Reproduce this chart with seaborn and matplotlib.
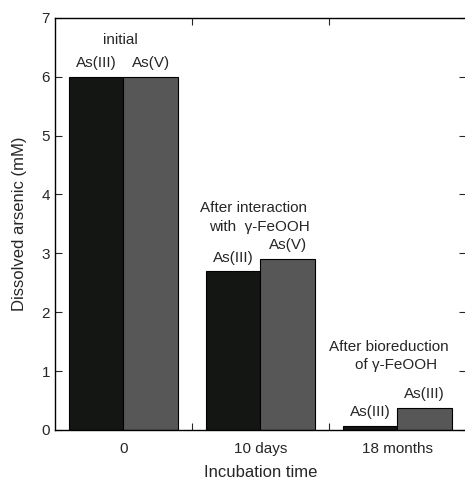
import matplotlib
matplotlib.use("Agg")
import matplotlib.pyplot as plt
import seaborn as sns
import pandas as pd

# Dissolved arsenic at each incubation stage
times = ["0", "10 days", "18 months"]
species = ["As(III)", "As(V)"]
as_iii = [6.0, 2.70, 0.07]
as_v = [6.0, 2.91, 0.38]
bar_labels = [["As(III)", "As(V)"], ["As(III)", "As(V)"], ["As(III)", "As(III)"]]
y_ticks = [0, 1, 2, 3, 4, 5, 6, 7]

df = pd.DataFrame({
    "time": times * 2,
    "species": [species[0]] * 3 + [species[1]] * 3,
    "conc": as_iii + as_v,
})

sns.set_style("ticks")
plt.rcParams["font.family"] = ["Liberation Sans", "DejaVu Sans"]

fig = plt.figure(figsize=(4.65, 4.82), dpi=100)
ax = fig.add_axes([0.118, 0.108, 0.884, 0.855])

sns.barplot(data=df, x="time", y="conc", hue="species", order=times,
            hue_order=species, palette=["#141614", "#575757"],
            edgecolor="black", linewidth=0.8, width=0.8, gap=0,
            legend=False, ax=ax)

ax.set_xlim(-0.5, 2.5)
ax.set_ylim(0, 7)
ax.set_yticks(y_ticks)
ax.set_yticklabels([str(t) for t in y_ticks], fontsize=11)

# category boundaries carry the x ticks; labels sit at the centres
ax.set_xticks([0.5, 1.5])
ax.set_xticklabels([])
ax.set_xticks([0, 1, 2], minor=True)
ax.set_xticklabels(times, minor=True, fontsize=11)
ax.tick_params(axis="x", which="minor", length=0, pad=9)
ax.tick_params(axis="both", which="major", direction="in", length=5,
               width=0.8, top=True, right=True)

for s in ax.spines.values():
    s.set_linewidth(1.0)
    s.set_color("black")

ax.set_xlabel("Incubation time", fontsize=12, labelpad=6)
ax.set_ylabel("Dissolved arsenic (mM)", fontsize=12)
ax.yaxis.set_label_coords(-0.068, 0.5)

# labels above each bar
off = 0.2
for i, (a, b) in enumerate(zip(as_iii, as_v)):
    ax.text(i - off, a + 0.16, bar_labels[i][0], ha="center", va="baseline", fontsize=11)
    ax.text(i + off, b + 0.16, bar_labels[i][1], ha="center", va="baseline", fontsize=11)

# stage notes
ax.text(-0.02, 6.55, "initial", ha="center", va="baseline", fontsize=11)
ax.text(0.95, 3.70, "After interaction", ha="center", va="baseline", fontsize=11)
ax.text(0.99, 3.38, "with  γ-FeOOH", ha="center", va="baseline", fontsize=11)
ax.text(1.935, 1.34, "After bioreduction", ha="center", va="baseline", fontsize=11)
ax.text(1.99, 1.03, "of γ-FeOOH", ha="center", va="baseline", fontsize=11)

fig.savefig("out.png", dpi=100)
